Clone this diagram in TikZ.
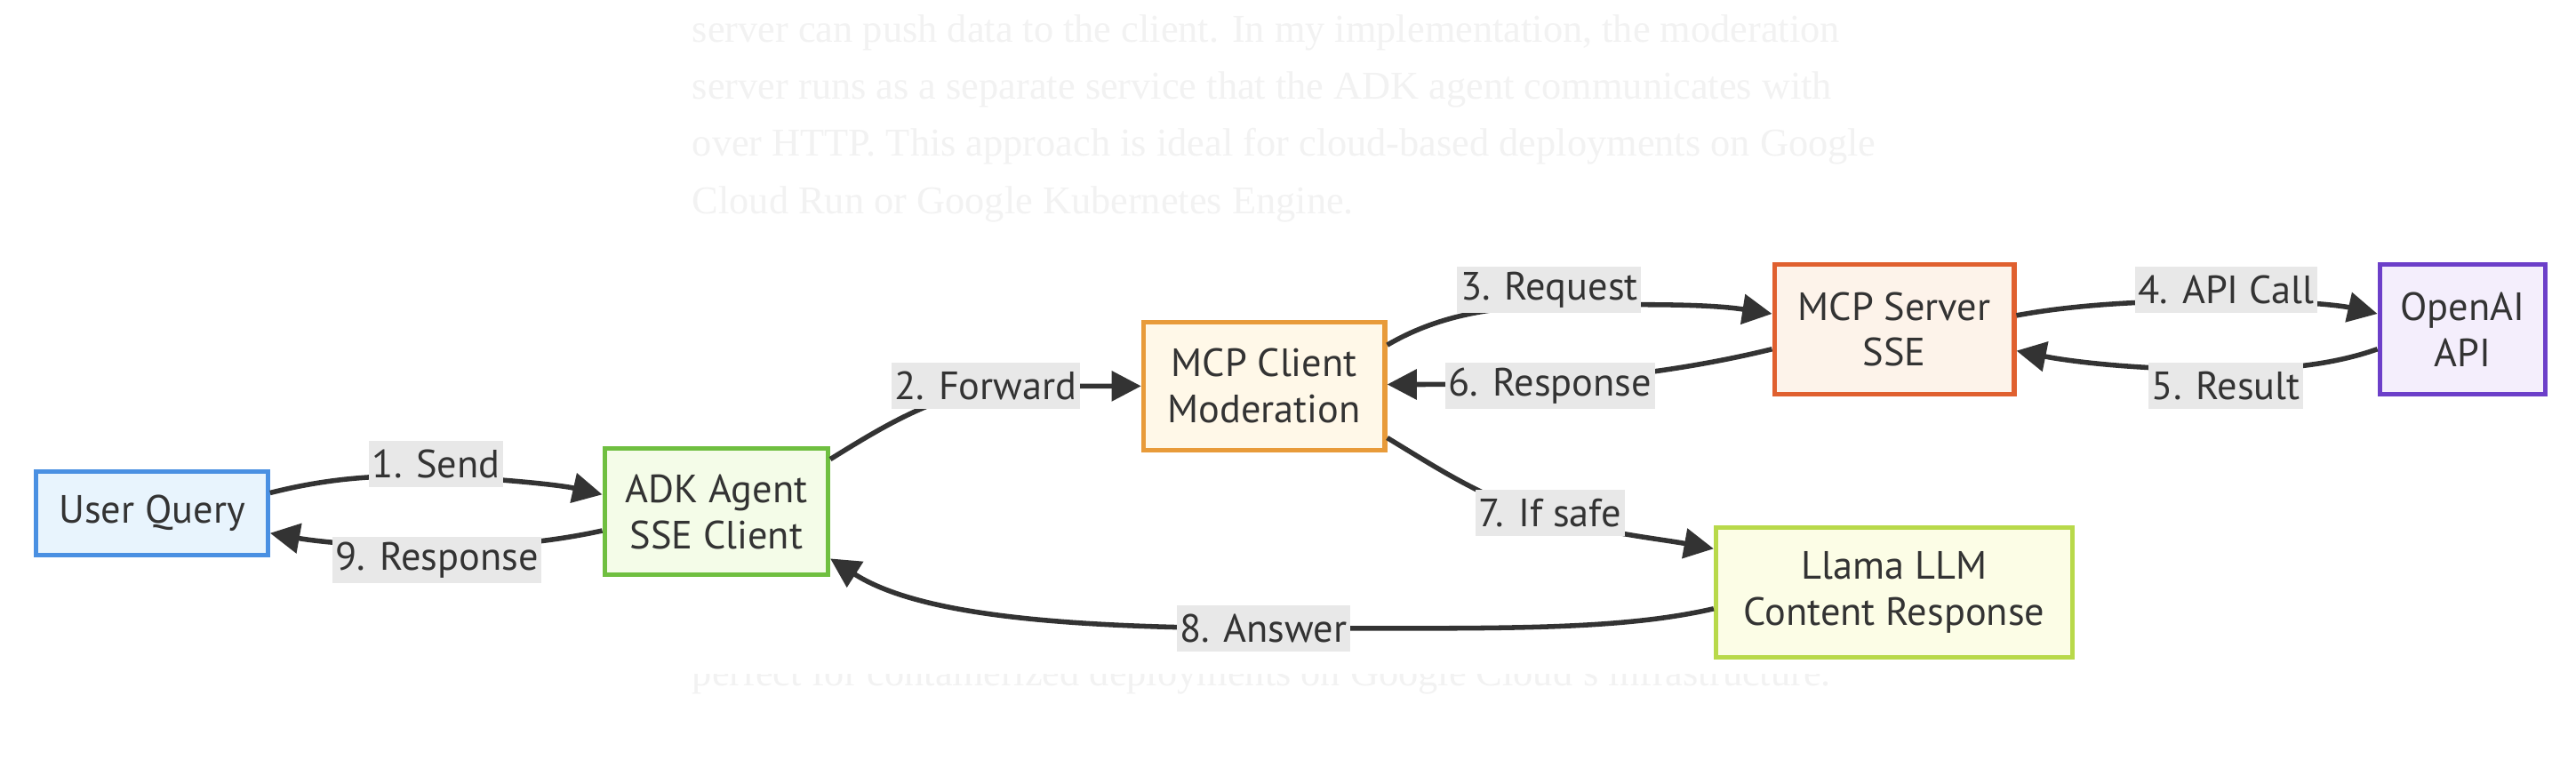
\documentclass[tikz,border=0pt]{standalone}
\usepackage{fontspec}
\setmainfont{Liberation Serif}
\newfontfamily\nodefont{PT Sans}
\usetikzlibrary{arrows.meta,calc}
\definecolor{txt}{HTML}{333333}
\definecolor{linec}{HTML}{333333}
\definecolor{lblbg}{HTML}{E8E8E8}
\definecolor{bgtext}{HTML}{F2F2F2}
\definecolor{uqB}{HTML}{4A90E2}\definecolor{uqF}{HTML}{E8F4FD}
\definecolor{adkB}{HTML}{6FBF40}\definecolor{adkF}{HTML}{F4FCE8}
\definecolor{mcB}{HTML}{E89B3A}\definecolor{mcF}{HTML}{FFF8E8}
\definecolor{msB}{HTML}{E0602F}\definecolor{msF}{HTML}{FDF3EA}
\definecolor{oaB}{HTML}{6C3FC9}\definecolor{oaF}{HTML}{F4EEFC}
\definecolor{llB}{HTML}{B8D94A}\definecolor{llF}{HTML}{FCFDE6}
\begin{document}
\begin{tikzpicture}[x=0.5pt,y=-0.5pt,
  box/.style={draw, line width=1.4pt, inner sep=0pt, align=center, text=txt,
    font=\nodefont\fontsize{12}{14}\selectfont},
  lbl/.style={fill=lblbg, inner xsep=1pt, inner ysep=0pt, minimum height=14pt, text=txt,
    font=\nodefont\fontsize{12}{14}\selectfont},
  flow/.style={draw=linec, line width=1.5pt, -{Triangle[length=9pt,width=9pt]}},
  bgtxt/.style={anchor=base west, inner sep=0pt, text=bgtext, font=\fontsize{12}{14}\selectfont}]
\useasboundingbox (0,0) rectangle (1568,472);
\fill[white] (0,0) rectangle (1568,472);
% faint background text
\node[bgtxt] (t1) at (421,25.8) {server can push data to the client. In my implementation, the moderation};
\node[bgtxt] (t2) at (421,60.5) {server runs as a separate service that the ADK agent communicates with};
\node[bgtxt] (t3) at (421,95.2) {over HTTP. This approach is ideal for cloud-based deployments on Google};
\node[bgtxt] (t4) at (421,129.9) {Cloud Run or Google Kubernetes Engine.};
\begin{scope}
\clip (400,410.5) rectangle (1200,440);
\node[bgtxt] (t5) at (421,417.6) {perfect for containerized deployments on Google Cloud's infrastructure.};
\end{scope}
% nodes
\node[box, draw=uqB, fill=uqF, minimum width=70.5pt, minimum height=25.5pt] (uq) at (92.5,312.5) {User Query};
\node[box, draw=adkB, fill=adkF, minimum width=68pt, minimum height=38.5pt] (adk) at (436,311.5) {ADK Agent\\SSE Client};
\node[box, draw=mcB, fill=mcF, minimum width=73.5pt, minimum height=39pt] (mcpc) at (769.5,235) {MCP Client\\Moderation};
\node[box, draw=msB, fill=msF, minimum width=73pt, minimum height=39.5pt] (mcps) at (1153,200.5) {MCP Server\\SSE};
\node[box, draw=oaB, fill=oaF, minimum width=50.5pt, minimum height=39.5pt] (oai) at (1499,200.5) {OpenAI\\API};
\node[box, draw=llB, fill=llF, minimum width=108.5pt, minimum height=39.5pt] (llama) at (1153,360.5) {Llama LLM\\Content Response};
% label positions
\coordinate (c1) at (265.5,282.5);
\coordinate (c9) at (266,341);
\coordinate (c2) at (600,235);
\coordinate (c3) at (943,176.5);
\coordinate (c6) at (943.5,235);
\coordinate (c4) at (1355,176.5);
\coordinate (c5) at (1355,235);
\coordinate (c7) at (943.5,312);
\coordinate (c8) at (769,382.5);
% connectors
\draw[flow] ($(uq.east)+(0,-12.5)$) .. controls (200,291) and (230,289) .. (265,290)
  .. controls (300,291) and (340,295) .. ($(adk.west)+(0,-10.5)$);
\draw[flow] ($(adk.west)+(0,11.5)$) .. controls (335,330) and (300,333) .. (266,333)
  .. controls (230,333) and (195,330) .. ($(uq.east)+(0,12)$);
\draw[flow] ($(adk.east)+(0,-32)$) .. controls (540,258) and (570,240) .. (610,235) -- (mcpc.west);
\draw[flow] ($(mcpc.east)+(0,-25)$) .. controls (870,195) and (900,187) .. (943,186)
  .. controls (1000,185) and (1040,185) .. ($(mcps.west)+(0,-9.5)$);
\draw[flow] ($(mcps.west)+(0,12)$) .. controls (1040,222) and (990,230) .. (943,232)
  .. controls (900,234) and (870,234) .. ($(mcpc.east)+(0,-1)$);
\draw[flow] ($(mcps.east)+(0,-8.5)$) .. controls (1260,186) and (1300,183) .. (1355,183)
  .. controls (1400,183) and (1425,186) .. ($(oai.west)+(0,-9.5)$);
\draw[flow] ($(oai.west)+(0,12)$) .. controls (1420,222) and (1390,225) .. (1355,225)
  .. controls (1300,225) and (1260,220) .. ($(mcps.east)+(0,13)$);
\draw[flow] ($(mcpc.east)+(0,31.5)$) .. controls (875,285) and (905,305) .. (943,315)
  .. controls (980,325) and (1010,328) .. ($(llama.west)+(0,-26.5)$);
\draw[flow] ($(llama.west)+(0,10)$) .. controls (980,385) and (900,382) .. (c8)
  .. controls (650,382) and (560,375) .. ($(adk.east)+(0,28.5)$);
% labels
\node[lbl] (l1) at (c1) {1. Send};
\node[lbl] (l9) at (c9) {9. Response};
\node[lbl] (l2) at (c2) {2. Forward};
\node[lbl] (l3) at (c3) {3. Request};
\node[lbl] (l6) at (c6) {6. Response};
\node[lbl] (l4) at (c4) {4. API Call};
\node[lbl] (l5) at (c5) {5. Result};
\node[lbl] (l7) at (c7) {7. If safe};
\node[lbl] (l8) at (c8) {8. Answer};
\end{tikzpicture}
\end{document}
